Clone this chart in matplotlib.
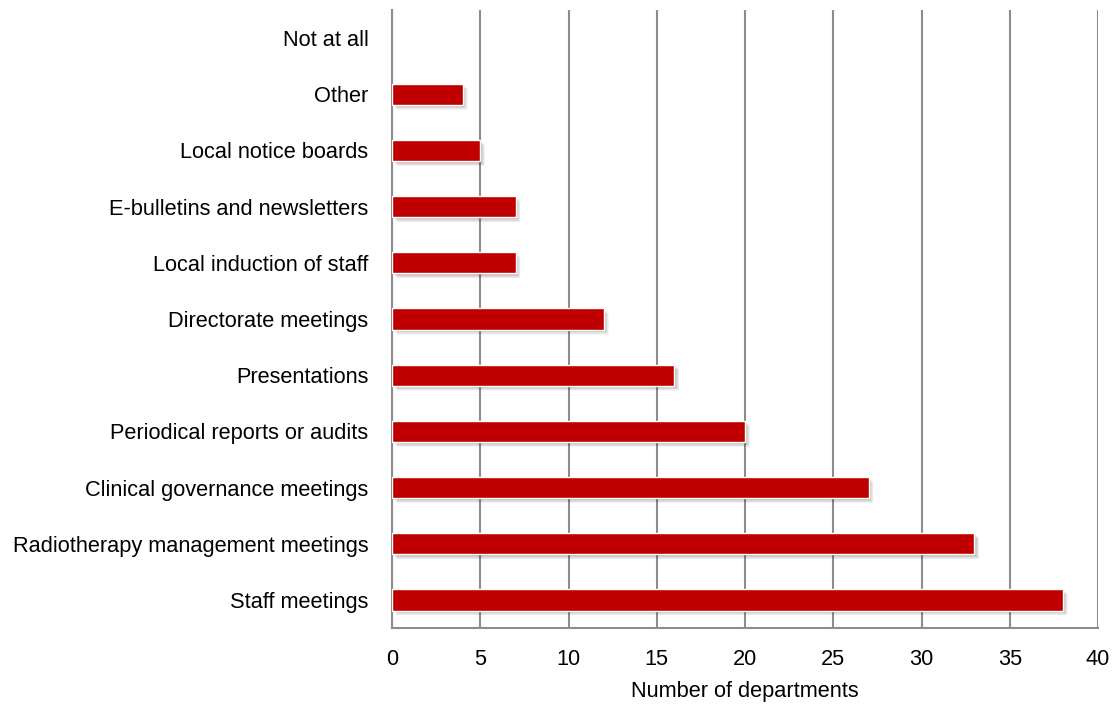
import numpy as np
import matplotlib.pyplot as plt
import matplotlib.transforms as mtransforms

categories = ['Staff meetings', 'Radiotherapy management meetings',
              'Clinical governance meetings', 'Periodical reports or audits',
              'Presentations', 'Directorate meetings', 'Local induction of staff',
              'E-bulletins and newsletters', 'Local notice boards', 'Other',
              'Not at all']
values = [38, 33, 27, 20, 16, 12, 7, 7, 5, 4, 0]
xticks = [0, 5, 10, 15, 20, 25, 30, 35, 40]

plt.rcParams['font.family'] = ['Liberation Sans', 'DejaVu Sans']

fig = plt.figure(figsize=(11.15, 7.13), dpi=100)
ax = fig.add_axes([0.3516, 0.1192, 0.6332, 0.8668])

y = np.arange(len(categories))
h = 0.38
edge_w = [1.0 if v > 0 else 0 for v in values]

# soft drop shadow under each bar
for i in range(7, 0, -1):
    off = mtransforms.offset_copy(ax.transData, fig=fig, x=i * 0.7, y=-i * 0.7, units='dots')
    ax.barh(y, values, height=h, color='black', alpha=0.045, linewidth=0,
            transform=off, zorder=2)

ax.barh(y, values, height=h, color='#C00000', edgecolor='white',
        linewidth=edge_w, zorder=3)

ax.set_xlim(0, 40)
ax.set_ylim(-0.5, len(categories) - 0.5)
ax.set_xticks(xticks)
ax.set_yticks(y)
ax.set_yticklabels(categories)
ax.xaxis.grid(True, color='#8c8c8c', linewidth=1.5)
ax.set_axisbelow(True)

for s in ['top', 'right']:
    ax.spines[s].set_visible(False)
ax.spines['left'].set_color('#8c8c8c')
ax.spines['left'].set_linewidth(1.5)
ax.spines['bottom'].set_color('#8c8c8c')
ax.spines['bottom'].set_linewidth(1.5)

ax.tick_params(axis='y', length=0, pad=17, labelsize=15.7)
ax.tick_params(axis='x', length=0, pad=15, labelsize=15.7)
ax.set_xlabel('Number of departments', fontsize=15.7, labelpad=8)

fig.savefig('out.png', dpi=100)
